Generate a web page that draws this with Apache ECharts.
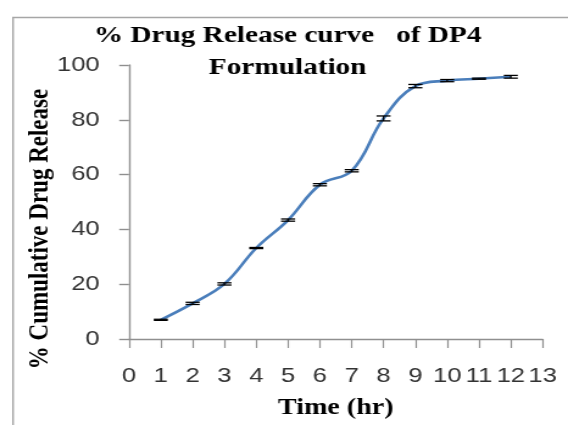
<!DOCTYPE html>
<html>
<head>
<meta charset="utf-8">
<script src="https://cdn.jsdelivr.net/npm/echarts@6/dist/echarts.min.js"></script>
<style>
html,body{margin:0;padding:0;background:#fff;overflow:hidden;}
#wrap{width:568px;height:425px;overflow:hidden;}
#c{width:466px;height:425px;transform:scaleX(1.2189);transform-origin:0 0;}
</style>
</head>
<body>
<div id="wrap"><div id="c"></div></div>
<script>
// Data
const times = [1, 2, 3, 4, 5, 6, 7, 8, 9, 10, 11, 12];
const release = [7.0, 13.0, 20.1, 33.2, 43.4, 56.3, 61.4, 80.5, 92.3, 94.3, 95.0, 95.7];
const errors = [0.2, 0.4, 0.4, 0.2, 0.4, 0.4, 0.4, 0.9, 0.6, 0.4, 0.2, 0.5];
const titleText = '% Drug Release curve   of DP4\nFormulation';
const xName = 'Time (hr)';
const yName = '% Cumulative Drug Release';

const chart = echarts.init(document.getElementById('c'), null, {renderer: 'canvas'});
const axisGray = '#8f8f8f';
const serifFamily = '"Liberation Serif", "Times New Roman", serif';
const serifBold = {fontFamily: serifFamily, fontWeight: 'bold', color: '#000'};

chart.setOption({
  backgroundColor: '#fff',
  animation: false,
  title: {
    text: titleText,
    left: 236,
    top: 20,
    padding: 0,
    textAlign: 'center',
    textStyle: Object.assign({fontSize: 24, lineHeight: 32}, serifBold)
  },
  graphic: [
    {type: 'rect', left: 8.2, top: 15, shape: {width: 600, height: 500},
     style: {fill: 'none', stroke: '#a6a6a6', lineWidth: 1.4}, z: -1, silent: true},
    {type: 'text', x: 32.8, y: 229, rotation: Math.PI / 2, silent: true,
     style: {text: yName, fontSize: 23, fontWeight: 'bold', fontFamily: serifFamily,
       align: 'center', verticalAlign: 'middle', fill: '#000'}}
  ],
  grid: {left: 105.8, right: 20.8, top: 65, bottom: 86},
  xAxis: {
    type: 'value', min: 0, max: 13, interval: 1,
    name: xName, nameLocation: 'middle', nameGap: 58,
    nameTextStyle: Object.assign({fontSize: 23}, serifBold),
    axisLine: {show: true, onZero: false, lineStyle: {color: axisGray, width: 1.4}},
    axisTick: {show: true, length: 9, lineStyle: {color: axisGray, width: 1.2}},
    axisLabel: {fontSize: 21, margin: 27, color: '#333', fontFamily: '"Liberation Sans", Arial, sans-serif'},
    splitLine: {show: false}
  },
  yAxis: {
    type: 'value', min: 0, max: 100, interval: 20,
    axisLine: {show: true, lineStyle: {color: axisGray, width: 1.4}},
    axisTick: {show: true, length: 8, lineStyle: {color: axisGray, width: 1.4}},
    axisLabel: {fontSize: 21, margin: 24, color: '#333', fontFamily: '"Liberation Sans", Arial, sans-serif'},
    splitLine: {show: false}
  },
  series: [
    {
      type: 'line',
      data: times.map((t, i) => [t, release[i]]),
      smooth: 0.4,
      showSymbol: false,
      lineStyle: {color: '#4A7EBB', width: 2.6},
      z: 2
    },
    {
      type: 'custom',
      data: times.map((t, i) => [t, release[i], errors[i]]),
      renderItem: function (params, api) {
        const x = api.value(0), y = api.value(1), e = api.value(2);
        const top = api.coord([x, y + e]);
        const bot = api.coord([x, y - e]);
        const hw = 5.75;
        const st = {stroke: '#000', lineWidth: 1.3};
        return {type: 'group', children: [
          {type: 'line', shape: {x1: top[0], y1: top[1], x2: bot[0], y2: bot[1]}, style: st},
          {type: 'line', shape: {x1: top[0] - hw, y1: top[1], x2: top[0] + hw, y2: top[1]}, style: st},
          {type: 'line', shape: {x1: bot[0] - hw, y1: bot[1], x2: bot[0] + hw, y2: bot[1]}, style: st}
        ]};
      },
      z: 3
    }
  ]
});
</script>
</body>
</html>
